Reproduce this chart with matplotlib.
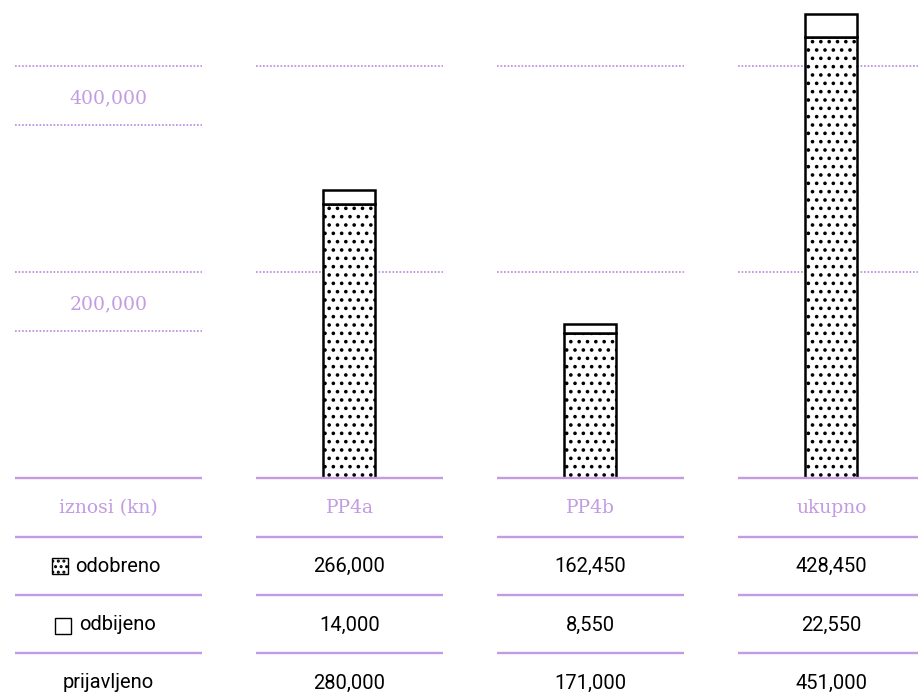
import matplotlib
matplotlib.use('Agg')
import matplotlib.pyplot as plt
from matplotlib.patches import Rectangle
from matplotlib.transforms import offset_copy

# data
categories = ['PP4a', 'PP4b', 'ukupno']
odobreno = [266000, 162450, 428450]
odbijeno = [14000, 8550, 22550]
prijavljeno = [280000, 171000, 451000]
# bar heights as drawn in the chart (PP4b bar is drawn shorter than its table value)
bar_odobreno = [266000, 140450, 428450]
bar_odbijeno = [14000, 8550, 22550]
grid_values = [200000, 400000]
grid_labels = ['200,000', '400,000']

purple = '#c39be3'
plt.rcParams['hatch.linewidth'] = 1.4

fig = plt.figure(figsize=(9.18, 6.96), dpi=100)

## chart part
base_px = 477.7
ax = fig.add_axes([0, (696 - base_px) / 696, 1, base_px / 696])
ax.set_xlim(-108.5 / 241, (918 - 108.5) / 241)
ax.set_ylim(0, 464500)
ax.axis('off')

half = 93.5 / 241
for v, lab in zip(grid_values, grid_labels):
  for i in range(4):
    ax.hlines(v, i - half, i + half, color=purple, lw=1.4,
              linestyles=[(0, (0.9, 0.9))], zorder=1)
  # second dotted line under the label, first column only
  tr = offset_copy(ax.transData, fig=fig, x=0, y=-0.59, units='inches')
  ax.plot([-half, half], [v, v], transform=tr, color=purple, lw=1.4,
          linestyle=(0, (0.9, 0.9)), zorder=1)
  ax.annotate(lab, xy=(0, v), xytext=(0, -23), textcoords='offset points',
              ha='center', va='center', color=purple, fontsize=13.5,
              family='DejaVu Serif')

xpos = [1, 2, 3]
ax.bar(xpos, bar_odobreno, width=52 / 241, color='white', edgecolor='black',
       hatch='..', linewidth=1.8, zorder=2)
ax.bar(xpos, bar_odbijeno, bottom=bar_odobreno, width=52 / 241, color='white',
       edgecolor='black', linewidth=1.8, zorder=2)

## table part
axt = fig.add_axes([0, 0, 1, (696 - base_px) / 696])
axt.set_xlim(0, 918)
axt.set_ylim(696, base_px)
axt.axis('off')
axt.set_zorder(3)
axt.patch.set_visible(False)

cols = [108.5 + 241 * i for i in range(4)]
for y in [base_px, 536.7, 595, 653.3]:
  for c in cols:
    axt.plot([c - 93.5, c + 93.5], [y, y], color=purple, lw=1.7,
             solid_capstyle='butt', clip_on=False)

axt.text(cols[0], 508, 'iznosi (kn)', ha='center', va='center', color=purple,
         fontsize=13.5, family='DejaVu Serif')
for c, name in zip(cols[1:], categories):
  axt.text(c, 508, name, ha='center', va='center', color=purple,
           fontsize=13.5, family='DejaVu Serif')

axt.add_patch(Rectangle((52, 558), 16, 16, facecolor='white', edgecolor='black',
                        hatch='...', lw=1.0))
axt.text(75.3, 566, 'odobreno', ha='left', va='center', fontsize=14.5,
         family='Roboto')
axt.add_patch(Rectangle((55, 617.7), 16, 16, facecolor='white', edgecolor='black',
                        lw=1.0))
axt.text(79.3, 625, 'odbijeno', ha='left', va='center', fontsize=14.5,
         family='Roboto')
axt.text(cols[0], 683, 'prijavljeno', ha='center', va='center', fontsize=14.5,
         family='Roboto')

for c, a, b, t in zip(cols[1:], odobreno, odbijeno, prijavljeno):
  axt.text(c, 566, f'{a:,}', ha='center', va='center', fontsize=14.5, family='Roboto')
  axt.text(c, 625, f'{b:,}', ha='center', va='center', fontsize=14.5, family='Roboto')
  axt.text(c, 683, f'{t:,}', ha='center', va='center', fontsize=14.5, family='Roboto')

fig.savefig('out.png', dpi=100)
